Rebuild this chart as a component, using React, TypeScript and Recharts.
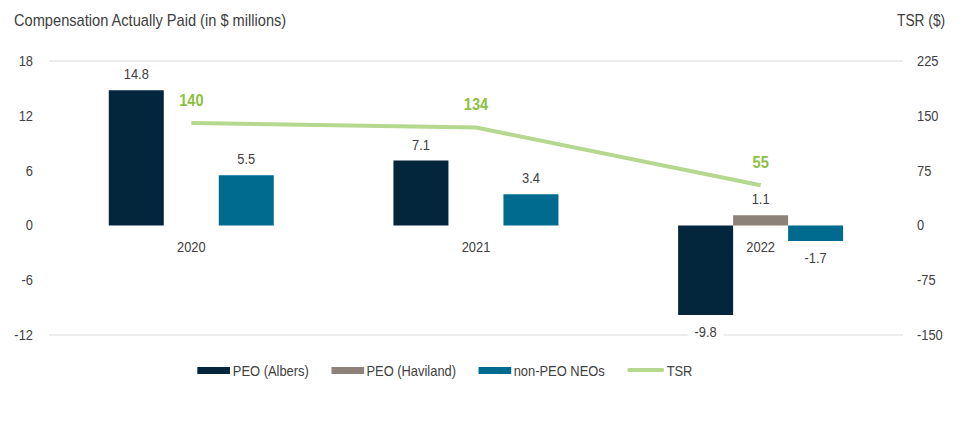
import React from "react";
import {
  ComposedChart,
  Bar,
  Line,
  XAxis,
  YAxis,
  CartesianGrid,
  Legend,
  LabelList,
} from "recharts";

const years = ["2020", "2021", "2022"];
const peoAlbers = [14.8, 7.1, -9.8];
const peoHaviland: (number | null)[] = [null, null, 1.1];
const nonPeoNeos = [5.5, 3.4, -1.7];
const tsr = [140, 134, 55];
const leftTicks = [-12, -6, 0, 6, 12, 18];
const rightTicks = [-150, -75, 0, 75, 150, 225];

const COLORS = {
  albers: "#03263c",
  haviland: "#8c8279",
  neos: "#006b8f",
  tsr: "#b5d78e",
  tsrLabel: "#8dbf42",
  text: "#404040",
  grid: "#d9d9d9",
};

const FONT = "'Liberation Sans', Arial, sans-serif";
const SX = 0.86;

const data = years.map((y, i) => ({
  year: y,
  albers: peoAlbers[i],
  haviland: peoHaviland[i],
  neos: nonPeoNeos[i],
  tsr: tsr[i],
  zero: 0,
}));

const NText = (props: any) => {
  const { x, y, anchor = "middle", fill = COLORS.text, size = 15, weight = "normal", children } = props;
  return (
    <text
      transform={`translate(${x},${y}) scale(${SX},1)`}
      textAnchor={anchor}
      fill={fill}
      fontSize={size}
      fontWeight={weight}
      fontFamily={FONT}
    >
      {children}
    </text>
  );
};

const BarValueLabel = (props: any) => {
  const { x, y, width, height, value } = props;
  if (value === null || value === undefined) return null;
  const top = Math.min(y, y + height);
  const bottom = Math.max(y, y + height);
  const cx = x + width / 2;
  const txt = String(value);
  if (value >= 0) {
    return <NText x={cx} y={top - 11}>{txt}</NText>;
  }
  return (
    <g>
      <rect x={cx - 18} y={bottom + 6} width={36} height={20} fill="#fff" />
      <NText x={cx} y={bottom + 22}>{txt}</NText>
    </g>
  );
};

const TsrLabel = (props: any) => {
  const { x, y, value } = props;
  return (
    <g>
      <rect x={x - 18} y={y - 35} width={36} height={22} fill="#fff" />
      <NText x={x} y={y - 17} fill={COLORS.tsrLabel} size={17} weight="bold">
        {value}
      </NText>
    </g>
  );
};

const YearLabel = (props: any) => {
  const { x, y, value } = props;
  return <NText x={x} y={y + 27}>{value}</NText>;
};

const LeftTick = (props: any) => {
  const { x, y, payload } = props;
  return <NText x={x} y={y + 5} anchor="end">{payload.value}</NText>;
};

const RightTick = (props: any) => {
  const { x, y, payload } = props;
  return <NText x={x} y={y + 5} anchor="start">{payload.value}</NText>;
};

const legendItems = [
  { label: "PEO (Albers)", color: COLORS.albers, type: "rect" },
  { label: "PEO (Haviland)", color: COLORS.haviland, type: "rect" },
  { label: "non-PEO NEOs", color: COLORS.neos, type: "rect" },
  { label: "TSR", color: COLORS.tsr, type: "line" },
];

const LegendContent = () => (
  <div
    style={{
      display: "flex",
      justifyContent: "center",
      alignItems: "center",
      height: 20,
      fontFamily: FONT,
      fontSize: 15,
      color: COLORS.text,
      transform: `translateX(-36px) scaleX(${SX})`,
      transformOrigin: "center",
    }}
  >
    {legendItems.map((it, i) => (
      <div
        key={it.label}
        style={{ display: "flex", alignItems: "center", marginRight: i < legendItems.length - 1 ? 26 : 0 }}
      >
        <span
          style={{
            display: "inline-block",
            width: it.type === "rect" ? 38 : 43,
            height: it.type === "rect" ? 7 : 4,
            background: it.color,
            marginRight: 3,
            borderRadius: it.type === "line" ? 2 : 0,
          }}
        />
        <span>{it.label}</span>
      </div>
    ))}
  </div>
);

export default function App() {
  return (
    <div style={{ position: "relative", width: 960, height: 427, background: "#fff" }}>
      <style>{`body{margin:0;}`}</style>
      <div
        style={{
          position: "absolute",
          left: 14,
          top: 11,
          fontFamily: FONT,
          fontSize: 17,
          color: COLORS.text,
          whiteSpace: "nowrap",
          transform: `scaleX(${SX})`,
          transformOrigin: "left",
        }}
      >
        Compensation Actually Paid (in $ millions)
      </div>
      <div
        style={{
          position: "absolute",
          left: 897,
          top: 12,
          fontFamily: FONT,
          fontSize: 16,
          color: COLORS.text,
          whiteSpace: "nowrap",
          transform: `scaleX(${SX})`,
          transformOrigin: "left",
        }}
      >
        TSR ($)
      </div>
      <ComposedChart
        width={960}
        height={427}
        data={data}
        margin={{ top: 61, right: 7, bottom: 47, left: 9 }}
        barCategoryGap="21%"
        barGap={0}
      >
        <CartesianGrid vertical={false} stroke={COLORS.grid} />
        <XAxis dataKey="year" height={25} tick={false} axisLine={false} tickLine={false} />
        <YAxis
          yAxisId="left"
          orientation="left"
          width={40}
          domain={[-12, 18]}
          ticks={leftTicks}
          axisLine={false}
          tickLine={false}
          tickMargin={10}
          tick={<LeftTick />}
        />
        <YAxis
          yAxisId="right"
          orientation="right"
          width={50}
          domain={[-150, 225]}
          ticks={rightTicks}
          axisLine={false}
          tickLine={false}
          tickMargin={8}
          tick={<RightTick />}
        />
        <Legend verticalAlign="bottom" height={20} content={<LegendContent />} />
        <Bar yAxisId="left" dataKey="albers" fill={COLORS.albers} isAnimationActive={false}>
          <LabelList dataKey="albers" content={<BarValueLabel />} />
        </Bar>
        <Bar yAxisId="left" dataKey="haviland" fill={COLORS.haviland} isAnimationActive={false}>
          <LabelList dataKey="haviland" content={<BarValueLabel />} />
        </Bar>
        <Bar yAxisId="left" dataKey="neos" fill={COLORS.neos} isAnimationActive={false}>
          <LabelList dataKey="neos" content={<BarValueLabel />} />
        </Bar>
        <Line
          yAxisId="left"
          dataKey="zero"
          stroke="none"
          strokeWidth={0}
          dot={false}
          activeDot={false}
          legendType="none"
          isAnimationActive={false}
        >
          <LabelList dataKey="year" content={<YearLabel />} />
        </Line>
        <Line
          yAxisId="right"
          dataKey="tsr"
          stroke={COLORS.tsr}
          strokeWidth={4}
          dot={false}
          activeDot={false}
          isAnimationActive={false}
        >
          <LabelList dataKey="tsr" content={<TsrLabel />} />
        </Line>
      </ComposedChart>
    </div>
  );
}
